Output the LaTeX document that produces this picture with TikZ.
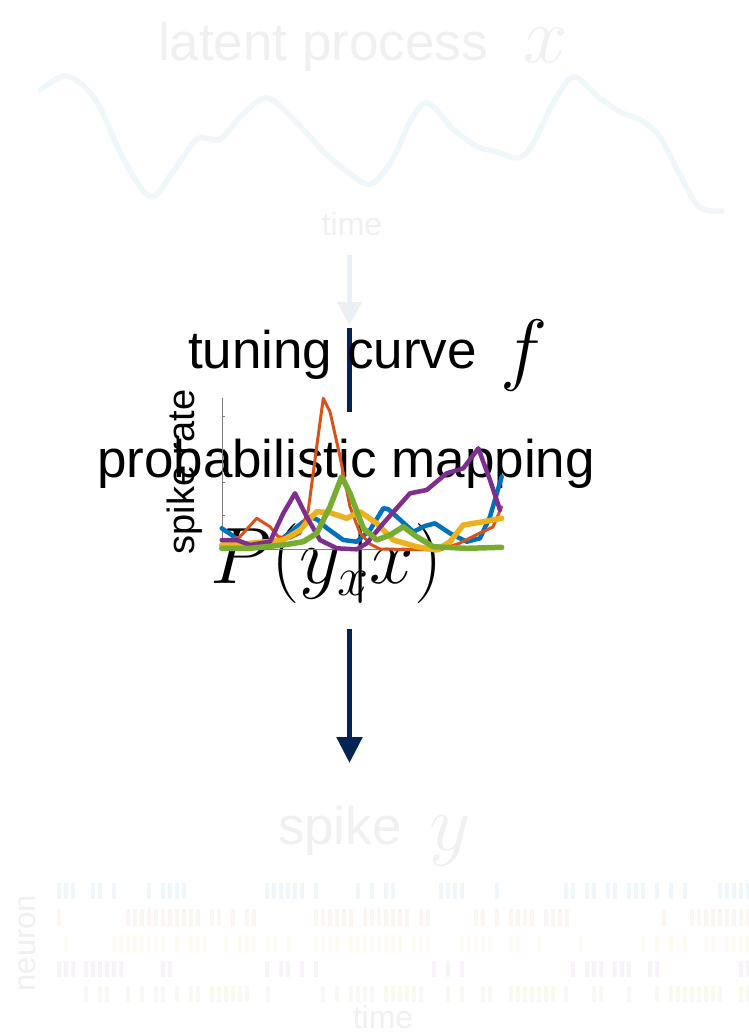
\RequirePackage{fix-cm}
\documentclass[tikz,border=0pt]{standalone}
\usepackage[no-math]{fontspec}
\setmainfont{Liberation Sans}
\usetikzlibrary{arrows.meta}

\definecolor{mlblue}{rgb}{0,0.447,0.741}
\definecolor{mlorange}{rgb}{0.85,0.325,0.098}
\definecolor{mlyellow}{rgb}{0.929,0.694,0.125}
\definecolor{mlpurple}{rgb}{0.494,0.184,0.556}
\definecolor{mlgreen}{rgb}{0.466,0.674,0.188}
\definecolor{navy}{RGB}{2,36,84}
\colorlet{faintgray}{black!6}

\newcommand\labelsize{\fontsize{53}{60}\selectfont}
\newcommand\mathsize{\fontsize{80}{90}\selectfont}
\newcommand\smalllabel{\fontsize{32}{36}\selectfont}

\tikzset{
  lbl/.style={inner sep=0pt, outer sep=0pt, font=\labelsize},
  mlbl/.style={inner sep=0pt, outer sep=0pt, font=\mathsize},
  faint/.style={text=faintgray},
  slbl/.style={inner sep=0pt, outer sep=0pt, font=\smalllabel, text=faintgray},
  tc/.style={line width=#1, line join=round, line cap=round},
  darkseg/.style={draw=navy, line width=5.5pt},
  paleseg/.style={draw=navy!7!white, line width=5.5pt},
  axisline/.style={draw=black!50, line width=0.8pt},
  spikebar/.style={fill=#1!6!white}
}

\begin{document}
\begin{tikzpicture}[x=1pt,y=-1pt]
\useasboundingbox (0,0) rectangle (749,1034);
\fill[white] (0,0) rectangle (749,1034);

% ---------- latent process (faded) ----------
\node[lbl, faint, anchor=base west] (latent) at (158,60) {latent process};
\node[mlbl, faint, anchor=base west] (latentx) at (523,62) {$x$};
\foreach \yy in {61.7,96.7,131.7,166.7,201.7}
  \fill[black!3] (40,\yy-0.6) rectangle (42,\yy+0.6);
\draw[mlblue!6!white, tc=5.5pt] plot[smooth, tension=0.55] coordinates {
 (40.7,90) (67,76) (95.7,100) (124,160) (150.7,197) (172,173) (196,140)
 (210.5,139) (222,138) (244,113) (268,98) (297,123) (325,153) (349,173)
 (371,184) (392,160) (411,120) (428,103) (454,130) (478,147) (498,152)
 (517,158) (531,147) (555,100) (574,77) (598,97) (622,113) (641,120)
 (660,137) (679,173) (699,207) (722,211)};
\node[slbl, anchor=base] (time1) at (352,235) {time};

% ---------- pale arrow into the mapping ----------
\coordinate (a1s) at (349.5,255);
\coordinate (a1e) at (349.5,325);
\draw[paleseg, -{Triangle[width=24pt,length=23pt]}] (a1s) -- (a1e);

% ---------- dark stem ----------
\coordinate (s1) at (349.5,328);
\coordinate (s2) at (349.5,412);
\draw[darkseg] (s1) -- (s2);

% ---------- labels of the mapping ----------
\node[lbl, anchor=base west] (tuning) at (188,368) {tuning curve};
\node[mlbl, anchor=base west] (tuningf) at (500,375) {$f$};
\node[lbl, anchor=base west] (prob) at (97,477) {probabilistic mapping};
\node[mlbl, anchor=base west] (pyx) at (210,583) {$P(y_{x}\kern-20pt|\kern-2pt x)$};
\node[inner sep=0pt, font=\fontsize{38}{42}\selectfont, rotate=90, anchor=base] (rate) at (194,472) {spike rate};

% ---------- tuning curves ----------
\coordinate (orig) at (222,549);
\coordinate (ytop) at (222,398);
\coordinate (xend) at (502,549);
\draw[axisline] (ytop) -- (orig) -- (xend);
\foreach \yy in {416,449,482.4,515.7}
  \draw[axisline, line width=0.6pt] (222,\yy) -- (225,\yy);

\draw[mlblue, tc=4.5pt] plot coordinates {
 (221.7,528.3) (231.7,535) (241.7,543) (250,547) (262,548) (276.7,543) (293,530)
 (310,516.7) (318,520) (326.7,528) (343.3,540) (356.7,541.7) (370,530)
 (383.3,508.3) (388,509) (396.7,516.7) (413.3,531.7) (425,526) (435,523.3)
 (450,533.3) (466.7,541.7) (480,538.3) (490,516.7) (501.7,476.7)};
\draw[mlorange, tc=3pt] plot coordinates {
 (221.7,543.3) (240,536.7) (256.7,518.3) (270,526.7) (278.3,536.7) (290,538.3)
 (300,533.3) (308.3,510) (316.7,446.7) (323.3,398.3) (330,411.7) (340,456.7)
 (350,506.7) (360,533) (370,544) (380,549) (440,550) (460,543) (480,533)
 (493,527) (501.7,506.7)};
\draw[mlyellow, tc=5.5pt] plot coordinates {
 (221.7,545) (250,543.3) (283.3,540) (300,530) (316.7,511.7) (330,512.7)
 (346.7,518.3) (360,511.7) (376.7,523.3) (393.3,540) (416.7,546.7)
 (436.7,550) (450,541.7) (463.3,525) (483.3,521.7) (501.7,518.3)};
\draw[mlpurple, tc=4.5pt] plot coordinates {
 (221.7,540) (236.7,540) (250,545) (270,541.7) (283.3,513.3) (295,493.3)
 (306.7,516.7) (320,540) (336.7,548.3) (356.7,549.3) (366.7,543.3)
 (383.3,523.3) (410,493.3) (426.7,490) (446.7,473.3) (463.3,468.3)
 (478.3,448.3) (490,480) (500,510)};
\draw[mlgreen, tc=5.5pt] plot coordinates {
 (221.7,548.3) (250,548.3) (283.3,545) (303.3,541.7) (316.7,533.3) (330,506.7)
 (341.7,476.7) (350,493.3) (363.3,528.3) (376.7,540) (390,535) (403.3,526.7)
 (416.7,536.7) (433.3,546.7) (466.7,548.3) (501.7,547.3)};

% ---------- dark arrow to the spikes ----------
\coordinate (a2s) at (349.5,629);
\coordinate (a2e) at (349.5,763);
\draw[darkseg, -{Triangle[width=25pt,length=26pt]}] (a2s) -- (a2e);

% ---------- spike raster (faded) ----------
\node[lbl, faint, anchor=base west] (spike) at (278,844) {spike};
\node[mlbl, faint, anchor=base west] (spikey) at (429,850) {$y$};
\node[inner sep=0pt, font=\fontsize{31}{36}\selectfont, text=faintgray, rotate=90, anchor=base] (neuron) at (35,943) {neuron};

\foreach \xx in {58.7,65.7,72.7,93.3,100.3,114.3,149,163,170,177,184,266.7,273.7,280.7,287.7,294.7,301.7,315.7,357.7,371.7,385.7,392.7,441,448,455,462,496.7,566,573,587,594,608,615,629,636,643,657,671,685,719.7,726.7,733.7,740.7,747.7}
  \fill[spikebar=mlblue] (\xx-1.85,883) rectangle (\xx+1.85,899);
\foreach \xx in {58.7,128,135,142,149,156,163,170,177,184,191,198,212,219,233,247,254,315.7,322.7,329.7,336.7,343.7,350.7,364.7,371.7,378.7,385.7,392.7,399.7,406.7,420.7,427.7,476,483,497,511,518,525,532,546,553,560,567,664,691.7,698.7,705.7,712.7,719.7,726.7,733.7,740.7,747.7}
  \fill[spikebar=mlorange] (\xx-1.85,909) rectangle (\xx+1.85,926);
\foreach \xx in {65.7,114,121,128,135,142,149,156,163,177,191,198,205,226,240,247,254,268,275,289,315.7,322.7,329.7,336.7,350.7,357.7,364.7,371.7,378.7,385.7,392.7,399.7,413.7,420.7,427.7,462,469,476,483,490,511,518,539,580.7,643.3,657,671,685,705.7,712.7,726.7,733.7,740.7,747.7}
  \fill[spikebar=mlyellow] (\xx-1.85,936) rectangle (\xx+1.85,952);
\foreach \xx in {58.7,65.7,72.7,86.3,93.3,100.3,107.3,114.3,121.3,163,170,266.7,280.7,287.7,301.7,315.7,434,448,462,573,587,594,601,615,622,629,650,657,740.7,747.7}
  \fill[spikebar=mlpurple] (\xx-1.85,961) rectangle (\xx+1.85,977);
\foreach \xx in {86.3,100.3,107.3,128,142,156,163,177,191,198,212,219,226,233,240,247,268,323,336.7,350.7,357.7,364.7,371.7,385.7,392.7,399.7,406.7,413.7,420.7,448,462,483,490,511,518,525,532,539,546,553,566,594,601,629,657,671,678,685,692,699,706,713,720,740.7,747.7}
  \fill[spikebar=mlgreen] (\xx-1.85,986) rectangle (\xx+1.85,1002);
\node[slbl, anchor=base] (time2) at (383,1028) {time};
\end{tikzpicture}
\end{document}
